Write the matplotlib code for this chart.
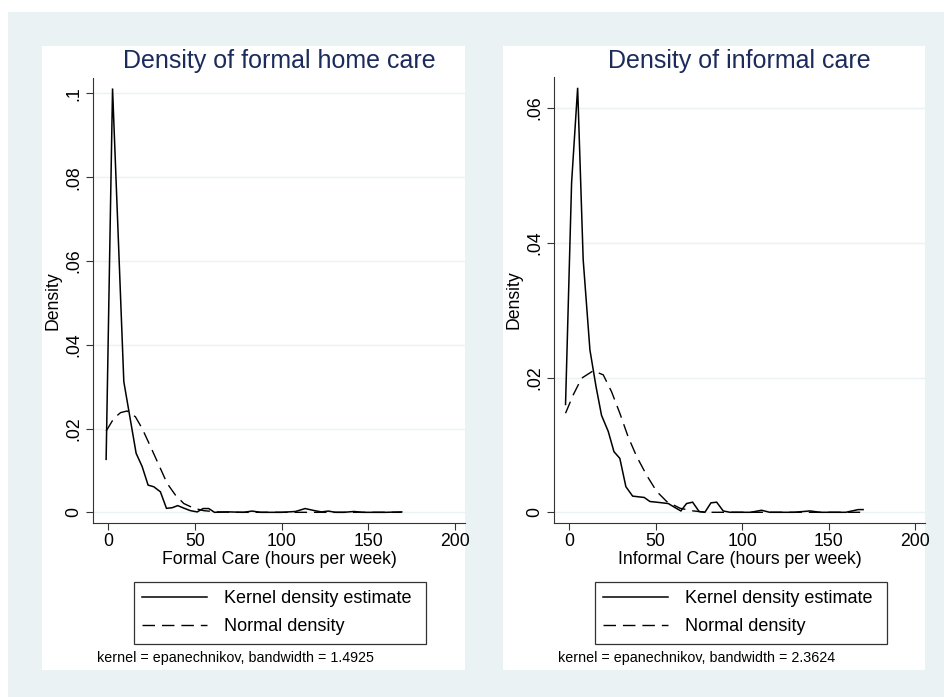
import matplotlib
matplotlib.use("Agg")
import matplotlib.pyplot as plt
from matplotlib.patches import Rectangle
from matplotlib.lines import Line2D

plt.rcParams["font.family"] = ["Liberation Sans", "DejaVu Sans"]

W, H = 944, 697          # output pixels at dpi 100
BG = "#eaf2f3"
NAVY = "#1a2b5c"

# ---- data ----
formal_kde_x = [-1.2, 2.5, 9.0, 16.1, 19.6, 23.0, 26.3, 30.1, 33.6, 36.9, 40.1, 43.6,
                47.4, 51.3, 54.7, 58.0, 61.3, 70, 78, 83, 88, 100, 108, 113.6, 119,
                123, 127, 131, 136, 141.6, 147, 160, 169.3]
formal_kde_y = [.01265, .1012, .0312, .0141, .0109, .0065, .0061, .0049, .00095, .0011,
                .0016, .0010, .0004, .0001, .0009, .0009, .0000, .0001, .0000, .0003,
                .0000, .0000, .0002, .0009, .0004, .0001, .0003, .0000, .0000, .0002,
                .0000, .0000, .0001]
formal_norm_x = [-1.2, 3.2, 7.1, 10.9, 15.7, 19.6, 24.4, 29.2, 34.0, 38.8, 43.6, 49.3,
                 55.0, 62.7, 75, 169.3]
formal_norm_y = [.0194, .0224, .0238, .0242, .0228, .0200, .0157, .0113, .0069, .0041,
                 .0021, .0010, .0004, .0001, 0, 0]

informal_kde_x = [-2.1, 1.4, 4.9, 8.1, 12.0, 15.5, 18.7, 22.6, 25.9, 29.3, 32.8, 36.7,
                  40.0, 43.4, 46.7, 50.5, 57.3, 61.2, 64.6, 67.9, 71.4, 75.2, 78.5, 82.0,
                  85.3, 89.1, 93.0, 105, 111.3, 116, 130, 139.3, 145, 160, 167.2, 170]
informal_kde_y = [.0160, .0489, .0630, .0375, .0241, .0187, .0144, .0120, .0090, .0080,
                  .0038, .0024, .0023, .0022, .0016, .0015, .0013, .0007, .0002, .0013,
                  .0015, .0001, .0000, .0014, .0015, .0002, .0000, .0000, .0003, .0000,
                  .0000, .0002, .0000, .0000, .0004, .0004]
informal_norm_x = [-2.1, 2.3, 7.2, 13.9, 19.7, 24.5, 29.3, 34.1, 39.0, 44.8, 50.6, 56.4,
                   64.1, 71.8, 79.5, 170]
informal_norm_y = [.0147, .0174, .0199, .0210, .0204, .0179, .0147, .0112, .0083, .0055,
                   .0031, .0016, .0006, .0002, 0, 0]

x_ticks = [0, 50, 100, 150, 200]
formal_yticks = [0, .02, .04, .06, .08, .1]
formal_ylabels = ["0", ".02", ".04", ".06", ".08", ".1"]
informal_yticks = [0, .02, .04, .06]
informal_ylabels = ["0", ".02", ".04", ".06"]

panels = [
    dict(title="Density of formal home care", xlabel="Formal Care (hours per week)",
         kde=(formal_kde_x, formal_kde_y), norm=(formal_norm_x, formal_norm_y),
         yticks=formal_yticks, ylabels=formal_ylabels, ylim=(-0.00255, 0.1037),
         note="kernel = epanechnikov, bandwidth = 1.4925",
         box=(42, 46, 465, 670), ax=(93.3, 78, 465, 523)),
    dict(title="Density of informal care", xlabel="Informal Care (hours per week)",
         kde=(informal_kde_x, informal_kde_y), norm=(informal_norm_x, informal_norm_y),
         yticks=informal_yticks, ylabels=informal_ylabels, ylim=(-0.00159, 0.0646),
         note="kernel = epanechnikov, bandwidth = 2.3624",
         box=(503, 46, 925, 670), ax=(554.3, 77, 925, 523)),
]


def frac(x0, y0, x1, y1):
    # pixel box (top-left origin) -> figure fraction rect
    return [x0 / W, 1 - y1 / H, (x1 - x0) / W, (y1 - y0) / H]


fig = plt.figure(figsize=(W / 100, H / 100), dpi=100, facecolor="white")
fig.add_artist(Rectangle((8 / W, 0), 1, 1 - 12 / H, transform=fig.transFigure,
                         facecolor=BG, edgecolor="none", zorder=-3))

dash = (0, (9, 5))
FS = 12.7
for p in panels:
    bx = frac(*p["box"])
    fig.add_artist(Rectangle((bx[0], bx[1]), bx[2], bx[3], transform=fig.transFigure,
                             facecolor="white", edgecolor="none", zorder=-2))
    ax = fig.add_axes(frac(*p["ax"]))
    ax.plot(*p["kde"], color="black", lw=1.1, solid_joinstyle="miter")
    ax.plot(*p["norm"], color="black", lw=1.0, linestyle=dash)
    ax.set_xlim(-8.6, 205.8)
    ax.set_ylim(*p["ylim"])
    ax.set_xticks(x_ticks)
    ax.set_yticks(p["yticks"])
    ax.set_yticklabels(p["ylabels"], rotation=90, va="center")
    ax.tick_params(axis="both", labelsize=FS, length=5, width=0.8, color="#333333")
    ax.tick_params(axis="y", pad=3)
    ax.tick_params(axis="x", pad=2.5)
    ax.grid(axis="y", color=BG, lw=1.0)
    ax.set_axisbelow(True)
    for s in ["top", "right"]:
        ax.spines[s].set_visible(False)
    for s in ["left", "bottom"]:
        ax.spines[s].set_linewidth(0.8)
        ax.spines[s].set_color("#333333")
    ax.set_ylabel("Density", fontsize=FS, labelpad=3)
    ax.set_xlabel(p["xlabel"], fontsize=FS, labelpad=0.5)

    x0, y0, x1, y1 = p["box"]
    cx = (p["ax"][0] + p["ax"][2]) / 2
    fig.text(cx / W, 1 - 61 / H, p["title"], ha="center", va="center",
             fontsize=18, color=NAVY)
    fig.text((x0 + 55) / W, 1 - 658 / H, p["note"], ha="left", va="center",
             fontsize=10.3)

    handles = [Line2D([], [], color="black", lw=1.1),
               Line2D([], [], color="black", lw=1.0, linestyle=dash)]
    lx0 = x0 + 92
    leg = ax.legend(handles, ["Kernel density estimate", "Normal density"],
                    loc="upper left", mode="expand",
                    bbox_to_anchor=(lx0 / W, 1 - 582 / H, 292 / W, 0),
                    bbox_transform=fig.transFigure, fontsize=13, frameon=True,
                    fancybox=False, edgecolor="black", handlelength=3.6,
                    handletextpad=0.92, labelspacing=0.6, borderpad=0.47,
                    borderaxespad=0)
    leg.get_frame().set_linewidth(0.9)

fig.savefig("out.png", dpi=100, facecolor="white")
